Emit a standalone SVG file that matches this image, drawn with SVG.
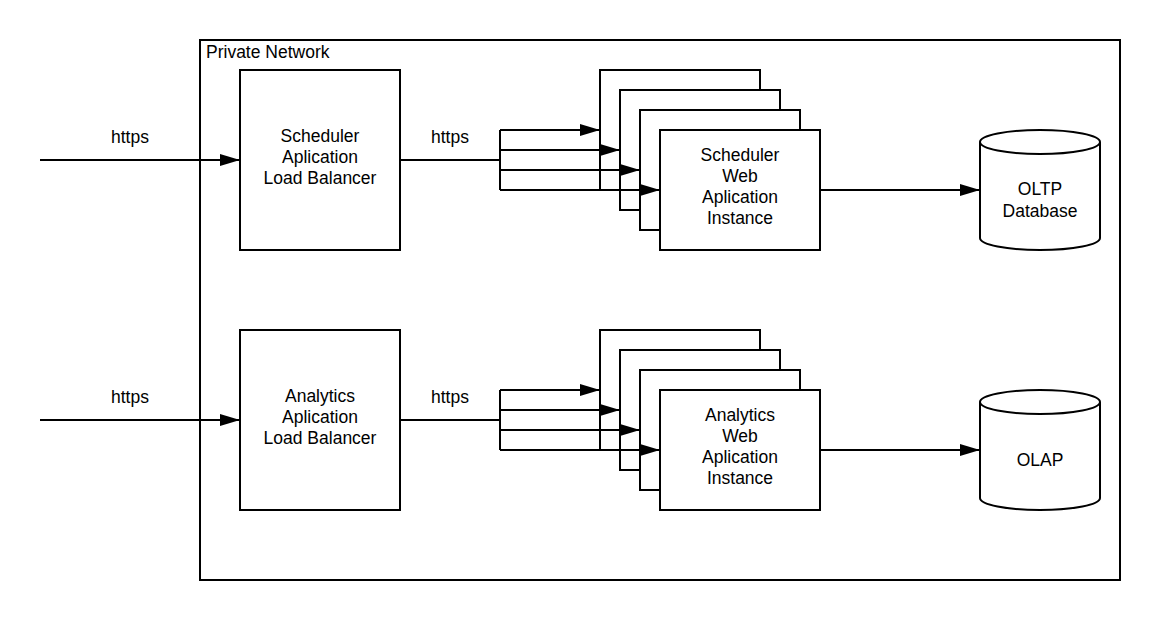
<svg xmlns="http://www.w3.org/2000/svg" width="1160" height="620" viewBox="0 0 1160 620">
<defs>
<style>
.box{fill:#fff;stroke:#000;stroke-width:2}
.frame{fill:none;stroke:#000;stroke-width:2}
.t{font-family:"Liberation Sans",Arial,sans-serif;font-size:17.5px;fill:#000;text-anchor:middle}
.tl{font-family:"Liberation Sans",Arial,sans-serif;font-size:17.5px;fill:#000}
.c{fill:none;stroke:#000;stroke-width:2}
.ca{fill:none;stroke:#000;stroke-width:2;marker-end:url(#ah)}
</style>
<marker id="ah" viewBox="0 0 20 12" refX="20" refY="6" markerWidth="20" markerHeight="12" markerUnits="userSpaceOnUse" orient="auto">
<path d="M0,0 L20,6 L0,12 Z" fill="#000"/>
</marker>
</defs>
<rect width="1160" height="620" fill="#fff"/>

<g id="private-network">
<rect class="frame" x="200" y="40" width="920" height="540"/>
<text class="tl" x="206" y="58">Private Network</text>
</g>

<g id="scheduler-lb">
<rect class="box" x="240" y="70" width="160" height="180"/>
<text class="t" x="320" y="142">Scheduler</text>
<text class="t" x="320" y="163">Aplication</text>
<text class="t" x="320" y="184">Load Balancer</text>
</g>

<g id="analytics-lb">
<rect class="box" x="240" y="330" width="160" height="180"/>
<text class="t" x="320" y="402">Analytics</text>
<text class="t" x="320" y="423">Aplication</text>
<text class="t" x="320" y="444">Load Balancer</text>
</g>

<g id="scheduler-instances">
<g id="scheduler-instance-1"><rect class="box" x="600" y="70" width="160" height="120"/></g>
<g id="scheduler-instance-2"><rect class="box" x="620" y="90" width="160" height="120"/></g>
<g id="scheduler-instance-3"><rect class="box" x="640" y="110" width="160" height="120"/></g>
<g id="scheduler-instance-4">
<rect class="box" x="660" y="130" width="160" height="120"/>
<text class="t" x="740" y="161">Scheduler</text><text class="t" x="740" y="182">Web</text><text class="t" x="740" y="203">Aplication</text><text class="t" x="740" y="224">Instance</text>
</g>
</g>

<g id="analytics-instances">
<g id="analytics-instance-1"><rect class="box" x="600" y="330" width="160" height="120"/></g>
<g id="analytics-instance-2"><rect class="box" x="620" y="350" width="160" height="120"/></g>
<g id="analytics-instance-3"><rect class="box" x="640" y="370" width="160" height="120"/></g>
<g id="analytics-instance-4">
<rect class="box" x="660" y="390" width="160" height="120"/>
<text class="t" x="740" y="421">Analytics</text><text class="t" x="740" y="442">Web</text><text class="t" x="740" y="463">Aplication</text><text class="t" x="740" y="484">Instance</text>
</g>
</g>

<g id="oltp-db">
<path class="box" d="M980,142 A60,12 0 0 1 1100,142 L1100,238 A60,12 0 0 1 980,238 Z"/>
<path class="frame" d="M980,142 A60,12 0 0 0 1100,142"/>
<text class="t" x="1040" y="195">OLTP</text>
<text class="t" x="1040" y="217">Database</text>
</g>

<g id="olap-db">
<path class="box" d="M980,402 A60,12 0 0 1 1100,402 L1100,498 A60,12 0 0 1 980,498 Z"/>
<path class="frame" d="M980,402 A60,12 0 0 0 1100,402"/>
<text class="t" x="1040" y="466">OLAP</text>
</g>

<g id="connectors">
<path class="ca" d="M40,160 L240,160"/>
<text class="t" x="130" y="143">https</text>
<path class="c" d="M400,160 L500,160 M500,130 L500,190"/>
<text class="t" x="450" y="143">https</text>
<path class="ca" d="M500,130 L600,130"/>
<path class="ca" d="M500,150 L620,150"/>
<path class="ca" d="M500,170 L640,170"/>
<path class="ca" d="M500,190 L660,190"/>
<path class="ca" d="M820,190 L980,190"/>

<path class="ca" d="M40,420 L240,420"/>
<text class="t" x="130" y="403">https</text>
<path class="c" d="M400,420 L500,420 M500,390 L500,450"/>
<text class="t" x="450" y="403">https</text>
<path class="ca" d="M500,390 L600,390"/>
<path class="ca" d="M500,410 L620,410"/>
<path class="ca" d="M500,430 L640,430"/>
<path class="ca" d="M500,450 L660,450"/>
<path class="ca" d="M820,450 L980,450"/>
</g>
</svg>
